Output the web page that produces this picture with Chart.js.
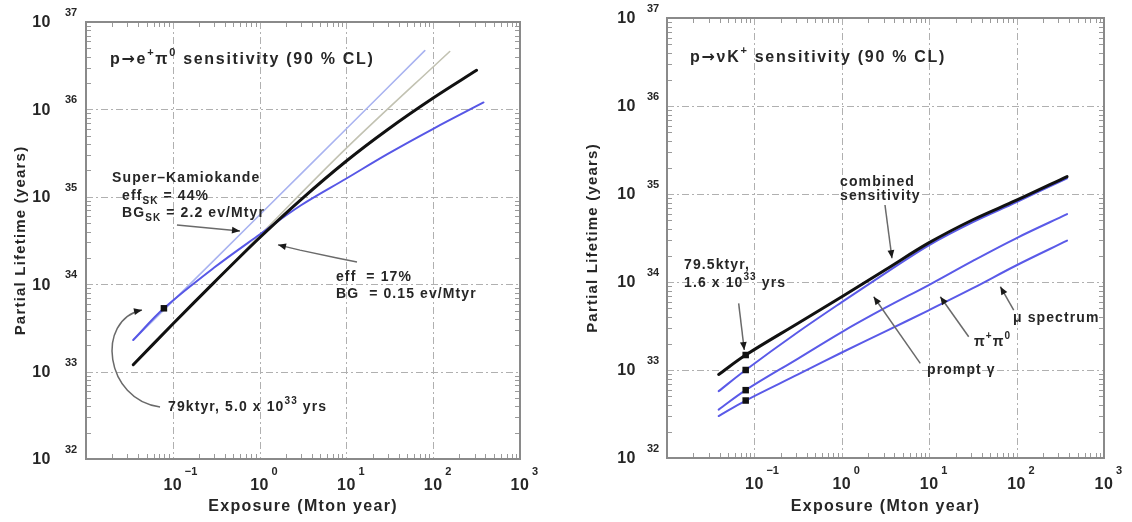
<!DOCTYPE html>
<html><head><meta charset="utf-8">
<script src="https://cdn.jsdelivr.net/npm/chart.js@4.4.1/dist/chart.umd.min.js"></script>
<style>
html,body{margin:0;padding:0;background:#fff;overflow:hidden;}
#wrap{position:relative;width:1132px;height:522px;background:#fff;}
.panel{position:absolute;top:0;width:566px;height:522px;}
</style></head><body>
<div id="wrap">
 <div class="panel" style="left:0px"><canvas id="left"></canvas></div>
 <div class="panel" style="left:566px"><canvas id="right"></canvas></div>
</div>
<script>
// ---------- data: p -> e+ pi0 sensitivity (left panel) ----------
const ePiLightBlueX = [0.035, 0.1, 1, 10, 80];
const ePiLightBlueY = [2.3e33, 6.4e33, 6.2e34, 6.0e35, 4.7e36];
const ePiGrayX = [0.035, 0.1, 1, 10, 155];
const ePiGrayY = [1.2e33, 3.5e33, 3.6e34, 3.6e35, 4.6e36];
const ePiBlackX = [0.035, 0.1, 0.3, 1, 3, 10, 30, 100, 316];
const ePiBlackY = [1.2e33, 3.5e33, 1.05e34, 3.4e34, 9.3e34, 2.57e35, 5.9e35, 1.35e36, 2.8e36];
const ePiBlueX = [0.035, 0.079, 0.3, 1, 3, 10, 30, 100, 380];
const ePiBlueY = [2.3e33, 5.3e33, 1.55e34, 3.7e34, 8.0e34, 1.62e35, 3.1e35, 6.0e35, 1.2e36];
const ePiMarkX = [0.079];
const ePiMarkY = [5.3e33];

// ---------- data: p -> nu K+ sensitivity (right panel) ----------
const nuKX = [0.039, 0.0795, 0.316, 1, 3.16, 10, 31.6, 100, 378];
const nuKCombinedY = [8.9e32, 1.48e33, 3.4e33, 6.8e33, 1.38e34, 2.8e34, 5.1e34, 8.5e34, 1.58e35];
const nuKPromptGammaY = [5.75e32, 1.0e33, 2.7e33, 5.9e33, 1.26e34, 2.63e34, 4.8e34, 8.1e34, 1.51e35];
const nuKPiPiY = [3.55e32, 5.9e32, 1.35e33, 2.7e33, 5.1e33, 9.3e33, 1.74e34, 3.16e34, 5.9e34];
const nuKMuY = [3.0e32, 4.5e32, 8.9e32, 1.58e33, 2.75e33, 4.8e33, 8.5e33, 1.55e34, 2.95e34];
const nuKMarkX = [0.0795, 0.0795, 0.0795, 0.0795];
const nuKMarkY = [1.48e33, 1.0e33, 5.9e32, 4.5e32];

// ---------- axes ----------
const xMin = 0.01, xMax = 1000, yMin = 1e32, yMax = 1e37;
const xTickValues = [0.1, 1, 10, 100, 1000];
const xTickExps = ['\u22121', '0', '1', '2', '3'];
const yTickValues = [1e32, 1e33, 1e34, 1e35, 1e36, 1e37];
const yTickExps = ['32', '33', '34', '35', '36', '37'];
const xGridValues = [0.1, 1, 10, 100];
const yGridValues = [1e33, 1e34, 1e35, 1e36];
const xTitle = 'Exposure (Mton year)';
const yTitle = 'Partial Lifetime (years)';

const FONT = '"Liberation Sans", Arial, Helvetica, sans-serif';
const ARROW_FONT = '"DejaVu Sans", sans-serif';
const TXT = '#262626';
const L = v => Math.pow(10, v);

function series(xs, ys) { return xs.map((x, i) => ({x: x, y: ys[i]})); }

function setFont(ctx, size, spacing, family) {
  ctx.font = 'bold ' + size + 'px ' + (family || FONT);
  try { ctx.letterSpacing = (spacing || 0) + 'px'; } catch (e) {}
}

function drawRich(ctx, segs, x, y, size, spacing, align) {
  ctx.save();
  ctx.fillStyle = TXT;
  ctx.textBaseline = 'middle';
  ctx.textAlign = 'left';
  let total = 0;
  const parts = segs.map(s => {
    const fs = (s.sup || s.sub) ? Math.round(size * 0.68) : size;
    setFont(ctx, fs, spacing, s.arrow ? ARROW_FONT : null);
    const w = ctx.measureText(s.t).width;
    total += w;
    return {s: s, fs: fs, w: w};
  });
  let cx = align === 'center' ? x - total / 2 : (align === 'right' ? x - total : x);
  for (const p of parts) {
    setFont(ctx, p.fs, spacing, p.s.arrow ? ARROW_FONT : null);
    const dy = p.s.sup ? -size * 0.42 : (p.s.sub ? size * 0.38 : 0);
    ctx.fillText(p.s.t, cx, y + dy);
    cx += p.w;
  }
  ctx.restore();
}

function arrowHead(ctx, x1, y1, x2, y2) {
  const ang = Math.atan2(y2 - y1, x2 - x1);
  const len = 8, hw = 3.4;
  ctx.beginPath();
  ctx.moveTo(x2, y2);
  ctx.lineTo(x2 - len * Math.cos(ang) + hw * Math.sin(ang), y2 - len * Math.sin(ang) - hw * Math.cos(ang));
  ctx.lineTo(x2 - len * Math.cos(ang) - hw * Math.sin(ang), y2 - len * Math.sin(ang) + hw * Math.cos(ang));
  ctx.closePath();
  ctx.fill();
}

function framePlugin(cfg) {
  return {
    id: 'frame_' + cfg.id,
    beforeDatasetsDraw(chart) {
      const ctx = chart.ctx, a = chart.chartArea, sx = chart.scales.x, sy = chart.scales.y;
      ctx.save();
      ctx.strokeStyle = '#b0b0b0';
      ctx.lineWidth = 1;
      ctx.setLineDash([7, 3, 2, 3]);
      xGridValues.forEach(v => {
        const X = Math.round(sx.getPixelForValue(v)) + 0.5;
        ctx.beginPath(); ctx.moveTo(X, a.top); ctx.lineTo(X, a.bottom); ctx.stroke();
      });
      yGridValues.forEach(v => {
        const Y = Math.round(sy.getPixelForValue(v)) + 0.5;
        ctx.beginPath(); ctx.moveTo(a.left, Y); ctx.lineTo(a.right, Y); ctx.stroke();
      });
      ctx.restore();
    },
    afterDatasetsDraw(chart) {
      const ctx = chart.ctx, a = chart.chartArea, sx = chart.scales.x, sy = chart.scales.y;
      // minor ticks
      ctx.save();
      ctx.strokeStyle = '#9a9a9a';
      ctx.lineWidth = 1;
      for (let e = -2; e <= 2; e++) {
        for (let m = 2; m <= 9; m++) {
          const X = Math.round(sx.getPixelForValue(m * L(e))) + 0.5;
          ctx.beginPath(); ctx.moveTo(X, a.bottom); ctx.lineTo(X, a.bottom - 5); ctx.stroke();
          ctx.beginPath(); ctx.moveTo(X, a.top); ctx.lineTo(X, a.top + 5); ctx.stroke();
        }
      }
      for (let e = 32; e <= 36; e++) {
        for (let m = 2; m <= 9; m++) {
          const Y = Math.round(sy.getPixelForValue(m * L(e))) + 0.5;
          ctx.beginPath(); ctx.moveTo(a.left, Y); ctx.lineTo(a.left + 5, Y); ctx.stroke();
          ctx.beginPath(); ctx.moveTo(a.right, Y); ctx.lineTo(a.right - 5, Y); ctx.stroke();
        }
      }
      // frame
      ctx.strokeStyle = '#8a8a8a';
      ctx.lineWidth = 2;
      ctx.strokeRect(a.left, a.top, a.right - a.left, a.bottom - a.top);
      ctx.restore();

      // tick labels
      ctx.save();
      ctx.fillStyle = TXT;
      ctx.textBaseline = 'middle';
      xTickValues.forEach((v, i) => {
        const X = sx.getPixelForValue(v);
        setFont(ctx, 16, 0.5); ctx.textAlign = 'center';
        ctx.fillText('10', X, a.bottom + 27);
        setFont(ctx, 11, 0); ctx.textAlign = 'left';
        ctx.fillText(xTickExps[i], X + 12, a.bottom + 13);
      });
      yTickValues.forEach((v, i) => {
        const Y = sy.getPixelForValue(v);
        setFont(ctx, 16, 0.5); ctx.textAlign = 'right';
        ctx.fillText('10', a.left - cfg.yTenGap, Y + 1);
        setFont(ctx, 11, 0); ctx.textAlign = 'left';
        ctx.fillText(yTickExps[i], a.left - cfg.yExpGap, Y - 9);
      });
      // axis titles
      setFont(ctx, 16, 1.3); ctx.textAlign = 'center';
      ctx.fillText(xTitle, (a.left + a.right) / 2, 507);
      ctx.translate(cfg.yTitleX, (a.top + a.bottom) / 2);
      ctx.rotate(-Math.PI / 2);
      setFont(ctx, 15, 1.2);
      ctx.fillText(yTitle, 0, 0);
      ctx.restore();

      // annotation leaders
      ctx.save();
      ctx.strokeStyle = '#6a6a6a';
      ctx.fillStyle = '#1a1a1a';
      ctx.lineWidth = 1.5;
      (cfg.leaders || []).forEach(ld => {
        const P = ld.pts.map(p => [sx.getPixelForValue(p[0]), sy.getPixelForValue(p[1])]);
        ctx.beginPath();
        ctx.moveTo(P[0][0], P[0][1]);
        if (ld.bezier) {
          ctx.bezierCurveTo(P[1][0], P[1][1], P[2][0], P[2][1], P[3][0], P[3][1]);
        } else {
          for (let i = 1; i < P.length; i++) ctx.lineTo(P[i][0], P[i][1]);
        }
        ctx.stroke();
        const n = P.length;
        arrowHead(ctx, P[n - 2][0], P[n - 2][1], P[n - 1][0], P[n - 1][1]);
      });
      ctx.restore();

      // annotation texts
      (cfg.texts || []).forEach(t => {
        drawRich(ctx, t.segs, sx.getPixelForValue(t.x), sy.getPixelForValue(t.y), t.size, t.spacing, 'left');
      });
    }
  };
}

function makeChart(id, datasets, padding, cfg) {
  return new Chart(document.getElementById(id), {
    type: 'line',
    data: {datasets: datasets},
    options: {
      responsive: true,
      maintainAspectRatio: false,
      animation: false,
      layout: {padding: padding},
      plugins: {legend: {display: false}, tooltip: {enabled: false}},
      events: [],
      scales: {
        x: {type: 'logarithmic', min: xMin, max: xMax, display: false},
        y: {type: 'logarithmic', min: yMin, max: yMax, display: false}
      },
      elements: {
        point: {radius: 0},
        line: {tension: 0.35, borderCapStyle: 'round', borderJoinStyle: 'round'}
      }
    },
    plugins: [framePlugin(cfg)]
  });
}

// 'order': lower values are drawn on top
function lineDs(xs, ys, color, width, order) {
  return {data: series(xs, ys), borderColor: color, borderWidth: width, fill: false, pointRadius: 0, order: order};
}
function markDs(xs, ys) {
  return {type: 'scatter', data: series(xs, ys), showLine: false, pointStyle: 'rect', pointRadius: 4.6,
          pointBackgroundColor: '#111', pointBorderColor: '#111', pointBorderWidth: 0, order: 0};
}

// ---------- left panel ----------
makeChart('left', [
  lineDs(ePiGrayX, ePiGrayY, '#c2c2b2', 1.6, 4),
  lineDs(ePiLightBlueX, ePiLightBlueY, '#a9b3f0', 1.6, 3),
  lineDs(ePiBlueX, ePiBlueY, '#5757e6', 2, 2),
  lineDs(ePiBlackX, ePiBlackY, '#111111', 3, 1),
  markDs(ePiMarkX, ePiMarkY)
], {left: 86, right: 46, top: 22, bottom: 63}, {
  id: 'l', yTenGap: 35, yExpGap: 21, yTitleX: 21,
  texts: [
    {segs: [{t: 'p'}, {t: '\u2192', arrow: true}, {t: 'e'}, {t: '+', sup: true}, {t: '\u03c0'}, {t: '0', sup: true}, {t: ' sensitivity (90 % CL)'}],
     x: L(-1.724), y: L(36.565), size: 16, spacing: 1.7},
    {segs: [{t: 'Super\u2013Kamiokande'}], x: L(-1.70), y: L(35.215), size: 14, spacing: 1.1},
    {segs: [{t: 'eff'}, {t: 'SK', sub: true}, {t: ' = 44%'}], x: L(-1.585), y: L(35.01), size: 14, spacing: 1.1},
    {segs: [{t: 'BG'}, {t: 'SK', sub: true}, {t: ' = 2.2 ev/Mtyr'}], x: L(-1.585), y: L(34.815), size: 14, spacing: 1.1},
    {segs: [{t: 'eff  = 17%'}], x: L(0.88), y: L(34.08), size: 14, spacing: 1.1},
    {segs: [{t: 'BG  = 0.15 ev/Mtyr'}], x: L(0.88), y: L(33.89), size: 14, spacing: 1.1},
    {segs: [{t: '79ktyr, 5.0 x 10'}, {t: '33', sup: true}, {t: ' yrs'}], x: L(-1.055), y: L(32.595), size: 14, spacing: 1.1}
  ],
  leaders: [
    {pts: [[L(-0.952), L(34.677)], [L(-0.226), L(34.609)]]},
    {pts: [[L(1.122), L(34.254)], [L(0.892), L(34.30)], [L(0.465), L(34.39)], [L(0.212), L(34.45)]]},
    {bezier: true, pts: [[L(-1.147), L(32.595)], [L(-1.781), L(32.675)], [L(-1.896), L(33.59)], [L(-1.355), L(33.705)]]}
  ]
});

// ---------- right panel ----------
makeChart('right', [
  lineDs(nuKX, nuKMuY, '#5a5ae8', 2, 4),
  lineDs(nuKX, nuKPiPiY, '#5a5ae8', 2, 3),
  lineDs(nuKX, nuKPromptGammaY, '#5a5ae8', 2, 2),
  lineDs(nuKX, nuKCombinedY, '#111111', 3, 1),
  markDs(nuKMarkX, nuKMarkY)
], {left: 101, right: 28, top: 18, bottom: 64}, {
  id: 'r', yTenGap: 31, yExpGap: 20, yTitleX: 27,
  texts: [
    {segs: [{t: 'p'}, {t: '\u2192', arrow: true}, {t: '\u03bdK'}, {t: '+', sup: true}, {t: ' sensitivity (90 % CL)'}],
     x: L(-1.737), y: L(36.545), size: 16, spacing: 1.7},
    {segs: [{t: 'combined'}], x: L(-0.02), y: L(35.136), size: 14, spacing: 1.1},
    {segs: [{t: 'sensitivity'}], x: L(-0.02), y: L(34.97), size: 14, spacing: 1.1},
    {segs: [{t: '79.5ktyr,'}], x: L(-1.805), y: L(34.193), size: 14, spacing: 1.1},
    {segs: [{t: '1.6 x 10'}, {t: '33', sup: true}, {t: ' yrs'}], x: L(-1.805), y: L(33.99), size: 14, spacing: 1.1},
    {segs: [{t: 'prompt \u03b3'}], x: L(0.975), y: L(33.0), size: 14, spacing: 1.1},
    {segs: [{t: '\u03c0'}, {t: '+', sup: true}, {t: '\u03c0'}, {t: '0', sup: true}], x: L(1.513), y: L(33.318), size: 14, spacing: 1.1},
    {segs: [{t: '\u03bc spectrum'}], x: L(1.959), y: L(33.59), size: 14, spacing: 1.1}
  ],
  leaders: [
    {pts: [[L(0.494), L(34.875)], [L(0.574), L(34.27)]]},
    {pts: [[L(-1.18), L(33.758)], [L(-1.116), L(33.227)]]},
    {pts: [[L(0.898), L(33.076)], [L(0.365), L(33.833)]]},
    {pts: [[L(1.452), L(33.378)], [L(1.127), L(33.833)]]},
    {pts: [[L(1.967), L(33.68)], [L(1.814), L(33.947)]]}
  ]
});
</script>
</body></html>
